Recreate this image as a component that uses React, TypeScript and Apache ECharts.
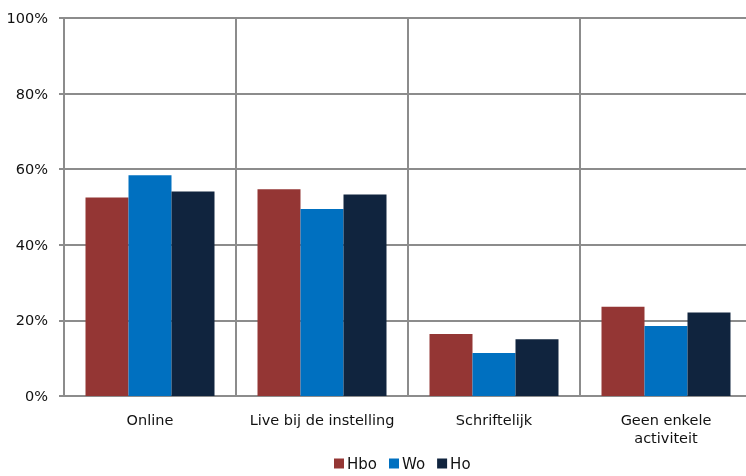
import React, { useEffect, useRef } from "react";
import * as echarts from "echarts";

const categories = ["Online", "Live bij de instelling", "Schriftelijk", "Geen enkele\nactiviteit"];
const seriesNames = ["Hbo", "Wo", "Ho"];
const hboValues = [52.5, 54.7, 16.4, 23.6];
const woValues = [58.4, 49.5, 11.4, 18.5];
const hoValues = [54.1, 53.3, 15.0, 22.1];
const seriesColors = ["#943634", "#0070C0", "#10243E"];
const yTicks = [0, 20, 40, 60, 80, 100];

const FONT = "DejaVu Sans";
const GRID = "#8c8c8c";
const TEXT = "#111111";

export default function App() {
  const ref = useRef<HTMLDivElement>(null);
  useEffect(() => {
    if (!ref.current) return;
    const chart = echarts.init(ref.current, null, { renderer: "svg" });
    const values = [hboValues, woValues, hoValues];
    chart.setOption({
      animation: false,
      textStyle: { fontFamily: FONT },
      grid: { left: 64, top: 18, right: 0, bottom: 80, containLabel: false },
      legend: {
        left: 334,
        top: 456,
        padding: 0,
        itemWidth: 10,
        itemHeight: 10,
        itemGap: 12,
        icon: "rect",
        textStyle: { fontFamily: FONT, fontSize: 15, color: TEXT, padding: [0, 0, 0, -2] },
        data: seriesNames,
      },
      xAxis: {
        type: "category",
        data: categories,
        axisLine: { show: true, lineStyle: { color: GRID, width: 2 } },
        axisTick: { show: false },
        splitLine: { show: true, lineStyle: { color: GRID, width: 2 } },
        axisLabel: { fontFamily: FONT, fontSize: 14.5, color: TEXT, margin: 15, lineHeight: 18, interval: 0 },
      },
      yAxis: {
        type: "value",
        min: yTicks[0],
        max: yTicks[yTicks.length - 1],
        interval: 20,
        axisLine: { show: true, lineStyle: { color: GRID, width: 2 } },
        axisTick: { show: true, length: 5, lineStyle: { color: GRID, width: 2 } },
        splitLine: { show: true, lineStyle: { color: GRID, width: 2 } },
        axisLabel: { fontFamily: FONT, fontSize: 14.5, color: TEXT, margin: 16, formatter: "{value}%" },
      },
      series: seriesNames.map((name, i) => ({
        name,
        type: "bar",
        data: values[i],
        barGap: "0%",
        barCategoryGap: "25%",
        itemStyle: { color: seriesColors[i] },
      })),
    });
    return () => chart.dispose();
  }, []);
  return (
    <div style={{ position: "fixed", left: 0, top: 0, width: 746, height: 476, overflow: "hidden" }}>
      <div ref={ref} style={{ width: 752, height: 476 }} />
    </div>
  );
}
